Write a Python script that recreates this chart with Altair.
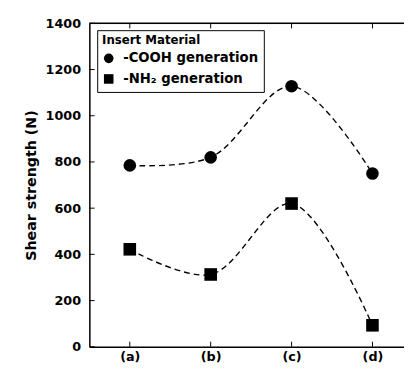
import altair as alt
import pandas as pd

categories = ["(a)", "(b)", "(c)", "(d)"]
cooh = [785, 820, 1128, 750]
nh2 = [422, 313, 620, 93]
series_names = ["-COOH generation", "-NH\u2082 generation"]
y_ticks = [0, 200, 400, 600, 800, 1000, 1200, 1400]

rows = []
for i, c in enumerate(categories):
    rows.append({"idx": i + 1, "cat": c, "value": cooh[i], "series": series_names[0]})
    rows.append({"idx": i + 1, "cat": c, "value": nh2[i], "series": series_names[1]})
df = pd.DataFrame(rows)

XMIN, XMAX = 0.5, 4.39
YMIN, YMAX = 0, 1400

font = "DejaVu Sans"
label_expr = "[" + ",".join(f"'{c}'" for c in categories) + "][datum.value-1]"

x = alt.X("idx:Q", scale=alt.Scale(domain=[XMIN, XMAX], nice=False, zero=False),
          axis=alt.Axis(values=[1, 2, 3, 4], labelExpr=label_expr, title=None, grid=False,
                        tickSize=0, labelPadding=4, labelFont=font, labelFontSize=13,
                        labelFontWeight="bold", labelColor="black", domainColor="black",
                        domainWidth=1.5))
y = alt.Y("value:Q", scale=alt.Scale(domain=[YMIN, YMAX], nice=False),
          axis=alt.Axis(values=y_ticks, format="d", title="Shear strength (N)", grid=False,
                        tickSize=0, labelPadding=9, labelFont=font, labelFontSize=13,
                        labelFontWeight="bold", labelColor="black", titleFont=font,
                        titleFontSize=14.5, titleFontWeight="bold", titleColor="black",
                        titlePadding=7, domainColor="black", domainWidth=1.5))

shape_scale = alt.Scale(domain=series_names, range=["circle", "square"])

lines = alt.Chart(df).mark_line(interpolate="catmull-rom", strokeDash=[6, 4], strokeWidth=1.4,
                                color="black").encode(x=x, y=y, detail="series:N")

points = alt.Chart(df).mark_point(filled=True, color="black", opacity=1).encode(
    x=x, y=y,
    shape=alt.Shape("series:N", scale=shape_scale,
                    legend=alt.Legend(title="Insert Material", orient="none", legendX=8,
                                      legendY=7, strokeColor="black", fillColor="white",
                                      padding=5, titleFont=font, titleFontSize=12,
                                      titleFontWeight="bold", titleColor="black",
                                      labelFont=font, labelFontSize=13.5,
                                      labelFontWeight="bold", labelColor="black",
                                      symbolSize=95, symbolFillColor="black",
                                      symbolStrokeColor="black", rowPadding=4,
                                      titlePadding=5, labelOffset=8)),
    size=alt.SizeValue(165),
)

# frame and inward ticks
top_df = pd.DataFrame({"x": [XMIN], "x2": [XMAX], "y": [YMAX]})
top = alt.Chart(top_df).mark_rule(color="black", strokeWidth=1.5).encode(
    x=alt.X("x:Q", scale=alt.Scale(domain=[XMIN, XMAX], nice=False, zero=False)), x2="x2:Q",
    y=alt.Y("y:Q", scale=alt.Scale(domain=[YMIN, YMAX], nice=False)))

ytick_df = pd.DataFrame({"y": y_ticks, "x": [XMIN] * len(y_ticks), "x2": [XMIN + 0.065] * len(y_ticks)})
yticks = alt.Chart(ytick_df).mark_rule(color="black", strokeWidth=1).encode(
    x="x:Q", x2="x2:Q", y="y:Q")

xt = []
for i in range(1, 5):
    xt.append({"x": i, "y": YMIN, "y2": YMIN + 22})
    xt.append({"x": i, "y": YMAX, "y2": YMAX - 22})
xticks = alt.Chart(pd.DataFrame(xt)).mark_rule(color="black", strokeWidth=1).encode(
    x="x:Q", y="y:Q", y2="y2:Q")

chart = alt.layer(lines, top, yticks, xticks, points).properties(
    width=321, height=330,
    autosize=alt.AutoSizeParams(type="none"),
    padding={"left": 83, "top": 12, "right": 0, "bottom": 18},
).configure_view(stroke=None).configure(background="white")

chart.save("out.html", embed_options={"renderer": "svg", "actions": False})
